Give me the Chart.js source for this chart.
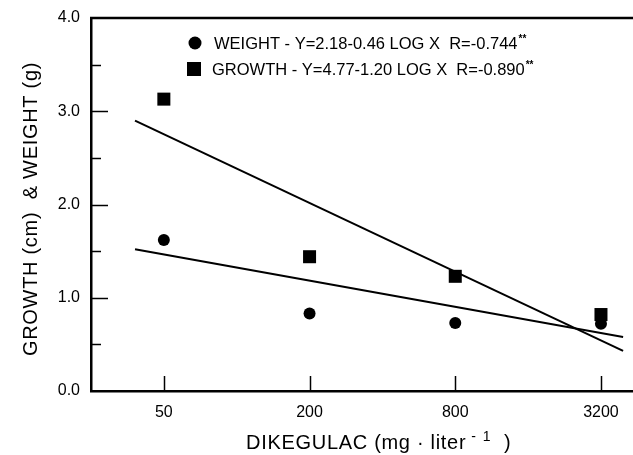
<!DOCTYPE html>
<html>
<head>
<meta charset="utf-8">
<script src="https://cdn.jsdelivr.net/npm/chart.js@4"></script>
<style>
  html, body { margin: 0; padding: 0; background: #fff; overflow: hidden; }
  #wrap { width: 633px; height: 455px; }
  canvas { display: block; }
</style>
</head>
<body>
<div id="wrap"><canvas id="chart" width="633" height="455"></canvas></div>
<script>
// Dikegulac concentration (mg/liter), log axis
const doses = [50, 200, 800, 3200];
const xTickValues = [50, 200, 800, 3200];

const weightValues = [1.62, 0.83, 0.73, 0.72];
const growthValues = [3.13, 1.44, 1.23, 0.82];

// fitted regression lines: endpoints as drawn
const lineX = [38, 3950];
const weightFit = [1.52, 0.58];
const growthFit = [2.90, 0.43];

const yMin = 0, yMax = 4, yStep = 0.5;
const xMin = 25, xMax = 4340;

const weightLegend = 'WEIGHT - Y=2.18-0.46 LOG X  R=-0.744';
const growthLegend = 'GROWTH - Y=4.77-1.20 LOG X  R=-0.890';
const yTitle = 'GROWTH (cm)  & WEIGHT (g)';

const FONT = '"Liberation Sans", Arial, Helvetica, sans-serif';

const toPoints = (xs, ys) => xs.map((x, i) => ({ x, y: ys[i] }));

// ─── Decorations: inside ticks, top frame, legend, titles ────────────────
const decorPlugin = {
    id: 'decor',
    afterDraw(chart) {
        const { ctx, chartArea: a, scales } = chart;
        const xs = scales.x, ys = scales.y;
        ctx.save();
        ctx.strokeStyle = '#000';

        // top frame line
        ctx.lineWidth = 2.5;
        ctx.beginPath();
        ctx.moveTo(a.left - 1, a.top);
        ctx.lineTo(chart.width, a.top);
        ctx.stroke();

        // y ticks pointing inward (major on whole numbers)
        ctx.lineWidth = 1.5;
        ys.ticks.forEach(t => {
            if (t.value <= yMin || t.value >= yMax) return;
            const py = Math.round(ys.getPixelForValue(t.value)) + 0.5;
            const len = Number.isInteger(t.value) ? 17 : 10;
            ctx.beginPath();
            ctx.moveTo(a.left, py);
            ctx.lineTo(a.left + len, py);
            ctx.stroke();
        });

        // x ticks pointing inward
        xTickValues.forEach(v => {
            const px = Math.round(xs.getPixelForValue(v)) + 0.5;
            ctx.beginPath();
            ctx.moveTo(px, a.bottom);
            ctx.lineTo(px, a.bottom - 15);
            ctx.stroke();
        });

        // legend
        ctx.fillStyle = '#000';
        ctx.textBaseline = 'middle';
        ctx.textAlign = 'left';
        const drawLegendText = (txt, x, y) => {
            ctx.font = '16.5px ' + FONT;
            ctx.fillText(txt, x, y);
            const w = ctx.measureText(txt).width;
            ctx.font = 'bold 10px ' + FONT;
            ctx.fillText('**', x + w + 1, y - 5);
        };
        ctx.beginPath();
        ctx.arc(195, 43, 6.5, 0, Math.PI * 2);
        ctx.fill();
        drawLegendText(weightLegend, 214, 44);
        ctx.fillRect(187, 62, 14, 14);
        drawLegendText(growthLegend, 212, 70);

        // y axis title
        ctx.save();
        ctx.translate(31, 209);
        ctx.rotate(-Math.PI / 2);
        ctx.textAlign = 'center';
        ctx.font = '20px ' + FONT;
        ctx.letterSpacing = '0.7px';
        ctx.fillText(yTitle, 0, 0);
        ctx.restore();

        // x axis title with superscript
        ctx.font = '20px ' + FONT;
        ctx.letterSpacing = '0.7px';
        const main = 'DIKEGULAC (mg \u00B7 liter';
        let x = 246;
        const y = 443;
        ctx.fillText(main, x, y);
        x += ctx.measureText(main).width + 5;
        ctx.letterSpacing = '1.5px';
        ctx.font = '14px ' + FONT;
        ctx.fillText('- 1', x, y - 6);
        x += ctx.measureText('- 1').width + 12;
        ctx.letterSpacing = '0px';
        ctx.font = '20px ' + FONT;
        ctx.fillText(')', x, y);

        ctx.restore();
    }
};

const ctx = document.getElementById('chart').getContext('2d');
new Chart(ctx, {
    type: 'scatter',
    data: {
        datasets: [
            {
                label: 'WEIGHT',
                data: toPoints(doses, weightValues),
                pointStyle: 'circle',
                pointRadius: 6,
                backgroundColor: '#000',
                borderColor: '#000',
                borderWidth: 0
            },
            {
                label: 'GROWTH',
                data: toPoints(doses, growthValues),
                pointStyle: 'rect',
                pointRadius: 9.2,
                backgroundColor: '#000',
                borderColor: '#000',
                borderWidth: 0
            },
            {
                label: 'WEIGHT fit',
                type: 'line',
                data: toPoints(lineX, weightFit),
                borderColor: '#000',
                borderWidth: 2,
                pointRadius: 0,
                fill: false
            },
            {
                label: 'GROWTH fit',
                type: 'line',
                data: toPoints(lineX, growthFit),
                borderColor: '#000',
                borderWidth: 2,
                pointRadius: 0,
                fill: false
            }
        ]
    },
    options: {
        responsive: false,
        animation: false,
        layout: { autoPadding: false, padding: { left: 0, right: 0, top: 18, bottom: 0 } },
        plugins: {
            legend: { display: false },
            tooltip: { enabled: false }
        },
        scales: {
            x: {
                type: 'logarithmic',
                min: xMin,
                max: xMax,
                afterBuildTicks: (scale) => {
                    scale.ticks = xTickValues.map(v => ({ value: v }));
                },
                afterFit: (scale) => {
                    scale.height = 64;
                    scale.paddingLeft = 0;
                    scale.paddingRight = 0;
                },
                grid: { display: true, drawOnChartArea: false, drawTicks: false },
                border: { display: true, color: '#000', width: 2.5 },
                ticks: {
                    color: '#000',
                    font: { family: FONT, size: 16 },
                    padding: 12,
                    maxRotation: 0,
                    autoSkip: false,
                    callback: (v) => String(v)
                }
            },
            y: {
                min: yMin,
                max: yMax,
                afterFit: (scale) => {
                    scale.width = 91;
                    scale.paddingTop = 0;
                    scale.paddingBottom = 0;
                },
                grid: { display: true, drawOnChartArea: false, drawTicks: false },
                border: { display: true, color: '#000', width: 2.5 },
                ticks: {
                    stepSize: yStep,
                    color: '#000',
                    font: { family: FONT, size: 16 },
                    padding: 11,
                    autoSkip: false,
                    callback: (v) => Number.isInteger(v) ? v.toFixed(1) : ''
                }
            }
        }
    },
    plugins: [decorPlugin]
});
</script>
</body>
</html>
